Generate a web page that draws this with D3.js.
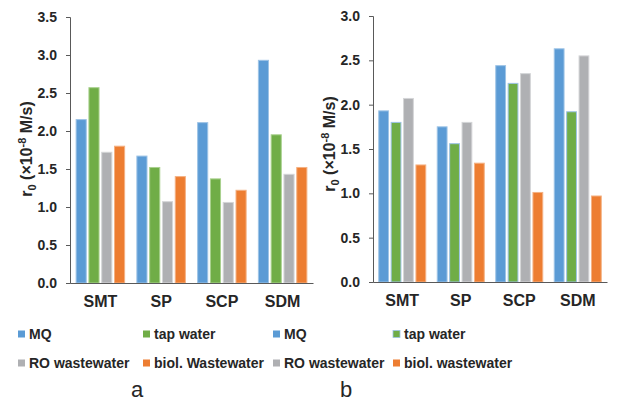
<!DOCTYPE html>
<html>
<head>
<meta charset="utf-8">
<script src="https://cdn.jsdelivr.net/npm/d3@7"></script>
<style>
  body { margin: 0; background: #fff; }
  svg { display: block; }
  svg text { font-family: "Liberation Sans", Arial, Helvetica, sans-serif; }
</style>
</head>
<body>
<div id="chart"></div>
<script>
// categories and series
const groups = ["SMT", "SP", "SCP", "SDM"];
const seriesA = ["MQ", "tap water", "RO wastewater", "biol. Wastewater"];
const seriesB = ["MQ", "tap water", "RO wastewater", "biol. wastewater"];

// panel a
const mqA   = [2.15, 1.67, 2.11, 2.93];
const tapA  = [2.57, 1.52, 1.37, 1.95];
const roA   = [1.72, 1.07, 1.06, 1.43];
const biolA = [1.80, 1.40, 1.22, 1.52];

// panel b
const mqB   = [1.93, 1.75, 2.44, 2.63];
const tapB  = [1.80, 1.56, 2.24, 1.92];
const roB   = [2.07, 1.80, 2.35, 2.55];
const biolB = [1.32, 1.34, 1.01, 0.97];

const ticksA = [0, 0.5, 1.0, 1.5, 2.0, 2.5, 3.0, 3.5];
const ticksB = [0, 0.5, 1.0, 1.5, 2.0, 2.5, 3.0];

const colors = ["#5b9bd5", "#70ad47", "#afb0b3", "#ed7d31"];

const svg = d3.select("#chart").append("svg")
    .attr("width", 617)
    .attr("height", 403);

function drawPanel(opt) {
    const g = svg.append("g");

    const x = d3.scaleBand()
        .domain(groups)
        .range([opt.x0, opt.x1]);

    const inner = d3.scaleBand()
        .domain(d3.range(4))
        .range([(x.bandwidth() - opt.groupW) / 2, (x.bandwidth() + opt.groupW) / 2])
        .paddingInner(0.21);

    const y = d3.scaleLinear()
        .domain([0, opt.ymax])
        .range([opt.y0, opt.y1]);

    // bars
    opt.values.forEach((vals, si) => {
        g.selectAll(null)
            .data(vals)
            .join("rect")
            .attr("x", (d, i) => x(groups[i]) + inner(si))
            .attr("y", d => y(d))
            .attr("width", inner.bandwidth())
            .attr("height", d => y(0) - y(d))
            .attr("fill", colors[si])
            .attr("stroke", opt.strokes[si])
            .attr("stroke-width", 1);
    });

    // y axis
    const yAxis = g.append("g")
        .attr("transform", `translate(${opt.x0},0)`)
        .call(d3.axisLeft(y).tickValues(opt.ticks).tickFormat(d3.format(".1f"))
            .tickSize(4).tickPadding(9).tickSizeOuter(4));
    yAxis.attr("font-family", null);
    yAxis.selectAll("text")
        .attr("font-size", 14)
        .attr("font-weight", "bold")
        .attr("fill", "#262626");

    // x axis
    const xAxis = g.append("g")
        .attr("transform", `translate(0,${opt.y0})`)
        .call(d3.axisBottom(x).tickSize(0).tickPadding(13).tickSizeOuter(0));
    xAxis.attr("font-family", null);
    xAxis.selectAll("text")
        .attr("font-size", 16)
        .attr("font-weight", "bold")
        .attr("fill", "#262626");

    [yAxis, xAxis].forEach(a => {
        a.select(".domain").attr("stroke", "#595959");
        a.selectAll(".tick line").attr("stroke", "#595959");
    });

    // y title
    const t = g.append("text")
        .attr("transform", `translate(${opt.titleX},${opt.titleY}) rotate(-90)`)
        .attr("text-anchor", "middle")
        .attr("font-size", 16)
        .attr("font-weight", "bold")
        .attr("fill", "#262626");
    t.append("tspan").text("r");
    t.append("tspan").attr("font-size", 11).attr("dy", 4).text("0");
    t.append("tspan").attr("dy", -4).text(" (×10");
    t.append("tspan").attr("font-size", 11).attr("dy", -6).text("-8");
    t.append("tspan").attr("dy", 6).text(" M/s)");

    // legend
    const cols = [opt.legX0, opt.legX1];
    const rows = [339, 368];
    opt.series.forEach((name, si) => {
        const lx = cols[si % 2];
        const ly = rows[Math.floor(si / 2)];
        g.append("rect")
            .attr("x", lx)
            .attr("y", ly - 8.5)
            .attr("width", 7)
            .attr("height", 7)
            .attr("fill", colors[si])
            .attr("stroke", si === 1 && opt.legendBlue ? "#9dc3e6" : "none")
            .attr("stroke-width", 0.8);
        g.append("text")
            .attr("x", lx + 11)
            .attr("y", ly)
            .attr("font-size", 14)
            .attr("font-weight", "bold")
            .attr("fill", "#262626")
            .text(name);
    });

    // panel letter
    g.append("text")
        .attr("x", opt.letterX)
        .attr("y", 397)
        .attr("text-anchor", "middle")
        .attr("font-size", 22)
        .attr("fill", "#262626")
        .text(opt.letter);
}

drawPanel({
    x0: 70, x1: 313, y0: 283, y1: 17, ymax: 3.5, groupW: 48.5,
    ticks: ticksA,
    values: [mqA, tapA, roA, biolA],
    strokes: ["#9dc3e6", "#a9d18e", "#d4d5d7", "#f4b183"],
    series: seriesA,
    titleX: 32, titleY: 149,
    legX0: 18, legX1: 143, legendBlue: false,
    letter: "a", letterX: 137
});

drawPanel({
    x0: 373, x1: 607, y0: 282, y1: 16, ymax: 3.0, groupW: 47,
    ticks: ticksB,
    values: [mqB, tapB, roB, biolB],
    strokes: ["#9dc3e6", "#9dc3e6", "#d4d5d7", "#f4b183"],
    series: seriesB,
    titleX: 335, titleY: 144,
    legX0: 273, legX1: 393, legendBlue: true,
    letter: "b", letterX: 346
});
</script>
</body>
</html>
